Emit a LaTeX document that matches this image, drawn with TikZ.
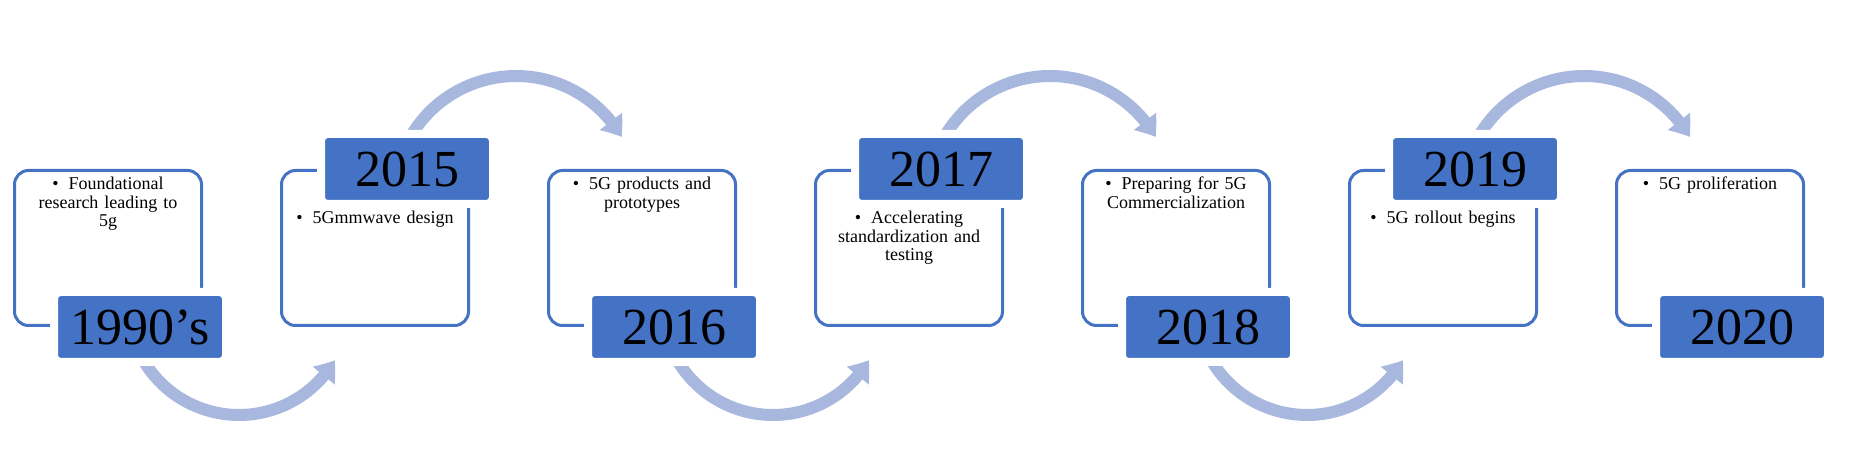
\documentclass[tikz,border=0pt]{standalone}
\usepackage{fontspec}
\setmainfont{Liberation Serif}
\usetikzlibrary{arrows.meta, bending, positioning, calc}
\definecolor{boxblue}{RGB}{68,114,196}
\definecolor{flowblue}{RGB}{168,183,222}
\newcommand{\itembullet}{\textbullet\hspace{10pt}}

\begin{document}
\begin{tikzpicture}[x=1pt, y=1pt,
  panel/.style={draw=boxblue, line width=3pt, rounded corners=14pt, minimum width=187pt, minimum height=155pt},
  yearbox/.style={fill=boxblue, draw=white, line width=8pt, rounded corners=7pt, minimum width=172pt, minimum height=70pt, inner sep=0pt, font=\fontsize{52}{52}\selectfont},
  note/.style={text width=175pt, align=center, inner sep=0pt, font=\fontsize{18}{18.5}\selectfont},
  flow/.style={draw=flowblue, line width=12pt, -{Triangle[length=19pt, width=27pt, bend]}}]

  \path[fill=white, use as bounding box] (0,0) rectangle (1850,463);

  % panels
  \node[panel] (b1) at (108,215) {};
  \node[panel, right=77pt of b1] (b2) {};
  \node[panel, right=77pt of b2] (b3) {};
  \node[panel, right=77pt of b3] (b4) {};
  \node[panel, right=77pt of b4] (b5) {};
  \node[panel, right=77pt of b5] (b6) {};
  \node[panel, right=77pt of b6] (b7) {};

  % curved arrows between the panels
  \foreach \k/\n in {1/2, 3/4, 5/6} {
    \coordinate (a\k) at ($(b\k.east)!0.5!(b\n.west)+(-2.5,-56)$);
    \draw[flow] ([shift={(211.6:111)}]a\k) arc[start angle=211.6, end angle=329.6, radius=111];
  }
  \foreach \k/\n in {2/3, 4/5, 6/7} {
    \coordinate (a\k) at ($(b\k.east)!0.5!(b\n.west)+(7.5,50)$);
    \draw[flow] ([shift={(148:122)}]a\k) arc[start angle=148, end angle=30, radius=122];
  }

  % years
  \node[yearbox, xshift=32pt] (y1) at (b1.south) {1990’s};
  \node[yearbox, xshift=32pt] (y2) at (b2.north) {2015};
  \node[yearbox, xshift=32pt] (y3) at (b3.south) {2016};
  \node[yearbox, xshift=32pt] (y4) at (b4.north) {2017};
  \node[yearbox, xshift=32pt] (y5) at (b5.south) {2018};
  \node[yearbox, xshift=32pt] (y6) at (b6.north) {2019};
  \node[yearbox, xshift=32pt] (y7) at (b7.south) {2020};

  % notes
  \node[note, below=8pt of b1.north] (t1) {\itembullet Foundational\\research leading to\\5g};
  \node[note, below=42pt of b2.north] (t2) {\itembullet 5Gmmwave design};
  \node[note, below=8pt of b3.north] (t3) {\itembullet 5G products and\\prototypes};
  \node[note, below=42pt of b4.north] (t4) {\itembullet Accelerating\\standardization and\\testing};
  \node[note, below=8pt of b5.north] (t5) {\itembullet Preparing for 5G\\Commercialization};
  \node[note, below=42pt of b6.north] (t6) {\itembullet 5G rollout begins};
  \node[note, below=8pt of b7.north] (t7) {\itembullet 5G proliferation};
\end{tikzpicture}
\end{document}
